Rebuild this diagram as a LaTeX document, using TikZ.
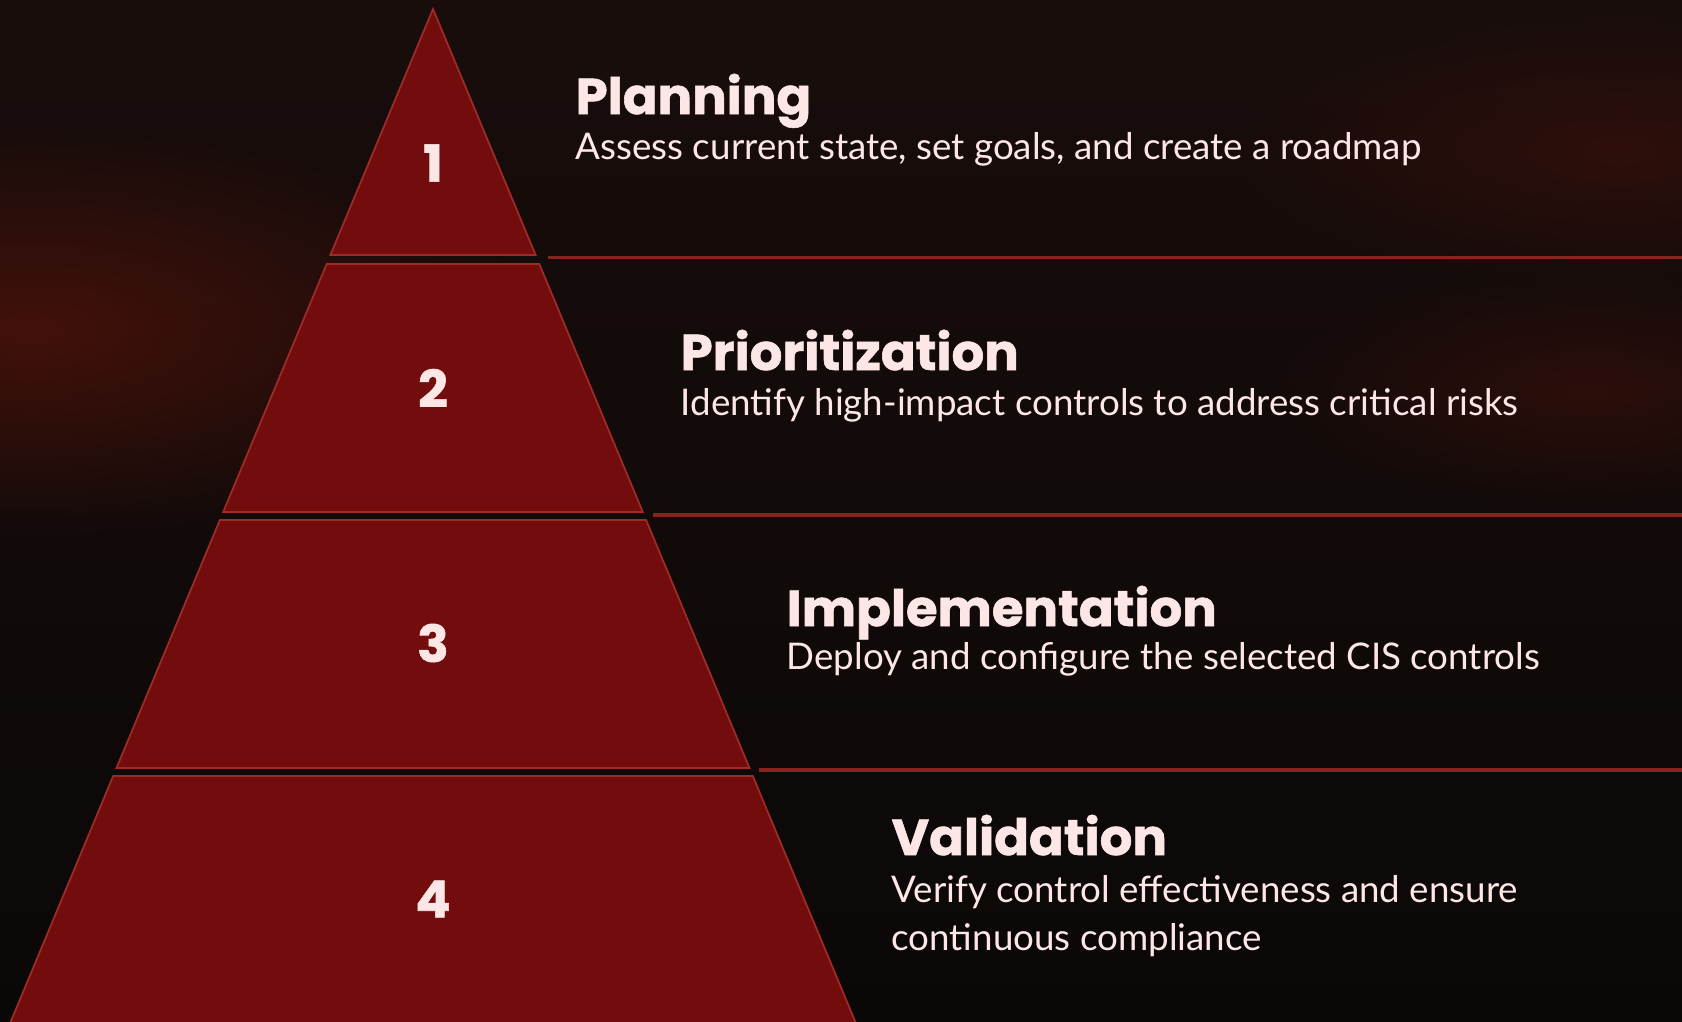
\documentclass[tikz,border=0pt]{standalone}
\usepackage{fontspec}
\setmainfont{Lato}
\newfontfamily\headfont[FakeStretch=1.02, BoldFeatures={FakeBold=1.2}]{Poppins}
\usetikzlibrary{fadings}

\definecolor{tierred}{HTML}{730C0C}
\definecolor{tieredge}{HTML}{9E2B27}
\definecolor{rulered}{HTML}{8C2220}
\definecolor{inkpink}{HTML}{FDE6E6}
\definecolor{bgtop}{HTML}{180D0B}
\definecolor{bgbottom}{HTML}{0A0807}
\definecolor{glow}{HTML}{4C120B}

\tikzfading[name=glowfade, inner color=transparent!0, outer color=transparent!100]

\tikzset{
  tier/.style={fill=tierred, draw=tieredge, line width=0.5pt},
  rule/.style={draw=rulered, line width=0.9pt},
  num/.style={inner sep=0pt, text=inkpink, font=\headfont\bfseries\fontsize{14.5}{16}\selectfont},
  title/.style={anchor=base west, inner sep=0pt, text=inkpink, font=\headfont\bfseries\fontsize{14.3}{16}\selectfont},
  desc/.style={anchor=base west, inner sep=0pt, align=left, text=inkpink, font=\fontsize{10.45}{13.4}\selectfont},
}

\begin{document}
\begin{tikzpicture}
  % dark backdrop with a warm haze
  \shade[top color=bgtop, bottom color=bgbottom] (0,0) rectangle (16.82,-10.21);
  \useasboundingbox (0,0) rectangle (16.82,-10.21);
  \clip (0,0) rectangle (16.82,-10.21);
  \fill[glow, opacity=0.85, path fading=glowfade] (0.3,-3.3) ellipse (5.2 and 2.1);
  \fill[glow, opacity=0.45, path fading=glowfade] (16.2,-1.5) ellipse (4.0 and 1.4);
  \fill[glow, opacity=0.45, path fading=glowfade] (15.9,-3.9) ellipse (3.2 and 1.2);

  % pyramid, cut into four tiers
  \filldraw[tier] (4.33,-0.09) -- (5.356,-2.55) -- (3.304,-2.55) -- cycle;
  \filldraw[tier] (3.267,-2.64) -- (5.393,-2.64) -- (6.428,-5.12) -- (2.232,-5.12) -- cycle;
  \filldraw[tier] (2.199,-5.20) -- (6.461,-5.20) -- (7.495,-7.68) -- (1.165,-7.68) -- cycle;
  \filldraw[tier] (1.132,-7.76) -- (7.528,-7.76) -- (8.600,-10.33) -- (0.060,-10.33) -- cycle;

  \node[num] (n1) at (4.33,-1.63) {1};
  \node[num] (n2) at (4.33,-3.88) {2};
  \node[num] (n3) at (4.33,-6.43) {3};
  \node[num] (n4) at (4.33,-8.99) {4};

  % rules between the steps
  \coordinate (r1a) at (5.48,-2.575);
  \coordinate (r1b) at (16.82,-2.575);
  \coordinate (r2a) at (6.53,-5.15);
  \coordinate (r2b) at (16.82,-5.15);
  \coordinate (r3a) at (7.59,-7.70);
  \coordinate (r3b) at (16.82,-7.70);
  \draw[rule] (r1a) -- (r1b);
  \draw[rule] (r2a) -- (r2b);
  \draw[rule] (r3a) -- (r3b);

  \node[title] (h1) at (5.75,-1.14) {Planning};
  \node[desc] (d1) at (5.75,-1.59) {Assess current state, set goals, and create a roadmap};
  \node[title] (h2) at (6.80,-3.70) {Prioritization};
  \node[desc] (d2) at (6.80,-4.15) {Identify high-impact controls to address critical risks};
  \node[title] (h3) at (7.86,-6.26) {Implementation};
  \node[desc] (d3) at (7.86,-6.69) {Deploy and configure the selected CIS controls};
  \node[title] (h4) at (8.91,-8.55) {Validation};
  % base of a two-line node sits on its last line
  \node[desc] (d4) at (8.91,-9.50) {Verify control effectiveness and ensure\\continuous compliance};
\end{tikzpicture}
\end{document}
